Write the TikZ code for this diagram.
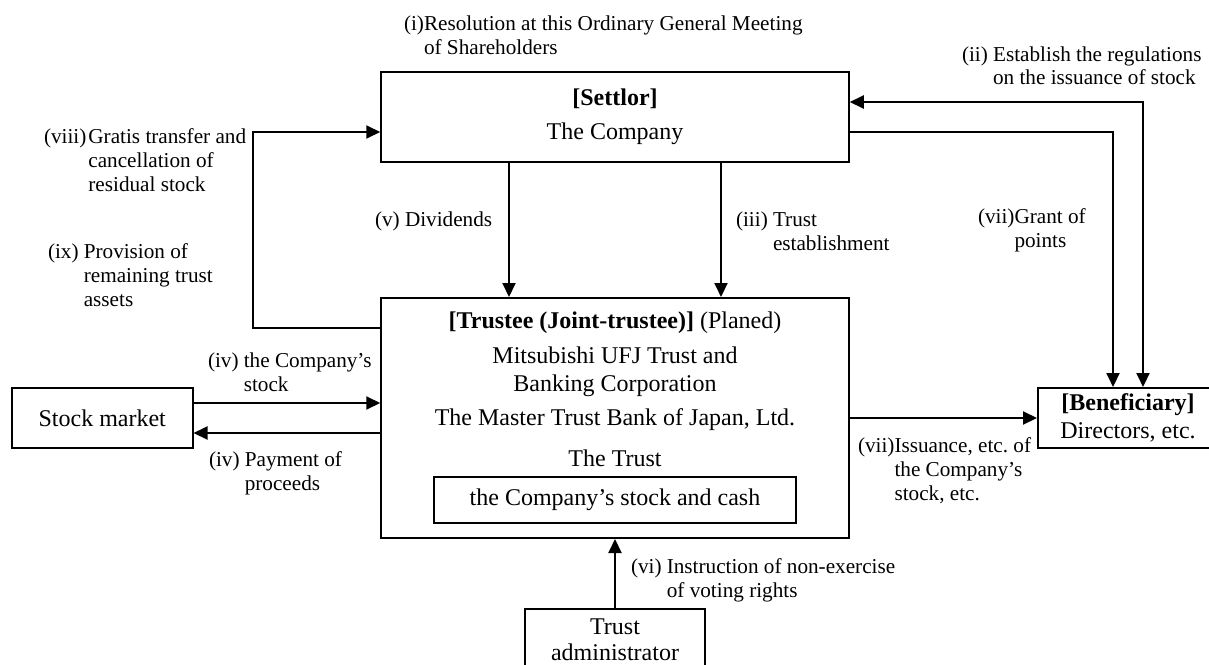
\documentclass[tikz,border=0pt]{standalone}
\usepackage{fontspec}
\setmainfont{Liberation Serif}
\usetikzlibrary{arrows.meta,positioning}
\frenchspacing

\begin{document}
\begin{tikzpicture}[
    x=0.5pt, y=-0.5pt,
    line width=1pt,
    party/.style={rectangle, draw, line width=1pt, inner sep=0pt, align=center, font=\fontsize{12}{14}\selectfont},
    boxtext/.style={inner sep=0pt, align=center, font=\fontsize{12}{14}\selectfont},
    lbl/.style={inner sep=0pt, anchor=base west, font=\fontsize{10.6}{12}\selectfont},
    arrow/.style={-{Triangle[length=7pt,width=6.5pt]}},
    biarrow/.style={{Triangle[length=7pt,width=6.5pt]}-{Triangle[length=7pt,width=6.5pt]}}
]
\useasboundingbox (0,0) rectangle (1209,664);
\clip (0,0) rectangle (1209,664);

% Parties
\node[party, minimum width=233.75pt, minimum height=45pt, font=\fontsize{12}{17}\selectfont]
    (settlor) at (615,117) {\textbf{[Settlor]}\\The Company};
\node[party, minimum width=233.75pt, minimum height=120pt] (trustee) at (615,418) {};
\node[party, minimum width=90.25pt, minimum height=30pt] (market) at (102.25,418) {Stock market};
\node[party, minimum width=90pt, minimum height=30pt] (benef) at (1128,418) {\textbf{[Beneficiary]}\\Directors, etc.};
\node[party, minimum width=90pt, minimum height=31pt, font=\fontsize{12}{13}\selectfont]
    (admin) at (615,640) {Trust\\administrator};

% Inside the trustee
\node[boxtext] (trTitle) at (615,323) {\textbf{[Trustee (Joint-trustee)]} (Planed)};
\node[boxtext] (trMufg) at (615,372) {Mitsubishi UFJ Trust and\\Banking Corporation};
\node[boxtext] (trMaster) at (615,420) {The Master Trust Bank of Japan, Ltd.};
\node[boxtext] (trTrust) at (615,458) {The Trust};
\node[party, minimum width=181pt, minimum height=23pt] (holdings) at (615,500) {the Company’s stock and cash};

% Bends
\coordinate (regTop) at (1143,102);
\coordinate (grantTop) at (1113,132);
\coordinate (loopTop) at (253,132);
\coordinate (loopBot) at (253,328);
\coordinate (divX) at (509,0);
\coordinate (estX) at (721,0);
\coordinate (buyY) at (0,403);
\coordinate (sellY) at (0,433);

% Connectors
\draw[biarrow] (settlor.east |- regTop) -- (regTop) -- (regTop |- benef.north);
\draw[arrow] (settlor.east |- grantTop) -- (grantTop) -- (grantTop |- benef.north);
\draw[arrow] (trustee.west |- loopBot) -- (loopBot) -- (loopTop) -- (settlor.west |- loopTop);
\draw[arrow] (settlor.south -| divX) -- (trustee.north -| divX);
\draw[arrow] (settlor.south -| estX) -- (trustee.north -| estX);
\draw[arrow] (market.east |- buyY) -- (trustee.west |- buyY);
\draw[arrow] (trustee.west |- sellY) -- (market.east |- sellY);
\draw[arrow] (trustee.east) -- (benef.west);
\draw[arrow] (admin.north) -- (trustee.south);

% Labels
\node[lbl] (lblI) at (403,31) {\begin{tabular}[t]{@{}l@{}l@{}}(i)&Resolution at this Ordinary General Meeting\\&of Shareholders\end{tabular}};
\node[lbl] (lblII) at (961,61) {\begin{tabular}[t]{@{}l@{}l@{}}(ii)\kern2.6pt&Establish the regulations\\&on the issuance of stock\end{tabular}};
\node[lbl] (lblIII) at (735,226) {\begin{tabular}[t]{@{}l@{}l@{}}(iii)\kern2.6pt&Trust\\&establishment\end{tabular}};
\node[lbl] (lblV) at (374,226) {(v) Dividends};
\node[lbl] (lblVIIa) at (977,223) {\begin{tabular}[t]{@{}l@{}l@{}}(vii)&Grant of\\&points\end{tabular}};
\node[lbl] (lblVIII) at (43,143) {\begin{tabular}[t]{@{}l@{}l@{}}(viii)\kern1pt&Gratis transfer and\\&cancellation of\\&residual stock\end{tabular}};
\node[lbl] (lblIX) at (47,258) {\begin{tabular}[t]{@{}l@{}l@{}}(ix)\kern2.6pt&Provision of\\&remaining trust\\&assets\end{tabular}};
\node[lbl] (lblIVa) at (207,367) {\begin{tabular}[t]{@{}l@{}l@{}}(iv)\kern2.6pt&the Company’s\\&stock\end{tabular}};
\node[lbl] (lblIVb) at (208,466) {\begin{tabular}[t]{@{}l@{}l@{}}(iv)\kern2.6pt&Payment of\\&proceeds\end{tabular}};
\node[lbl] (lblVIIb) at (857,452) {\begin{tabular}[t]{@{}l@{}l@{}}(vii)&Issuance, etc. of\\&the Company’s\\&stock, etc.\end{tabular}};
\node[lbl] (lblVI) at (630,573) {\begin{tabular}[t]{@{}l@{}l@{}}(vi)\kern2.6pt&Instruction of non-exercise\\&of voting rights\end{tabular}};
\end{tikzpicture}
\end{document}
